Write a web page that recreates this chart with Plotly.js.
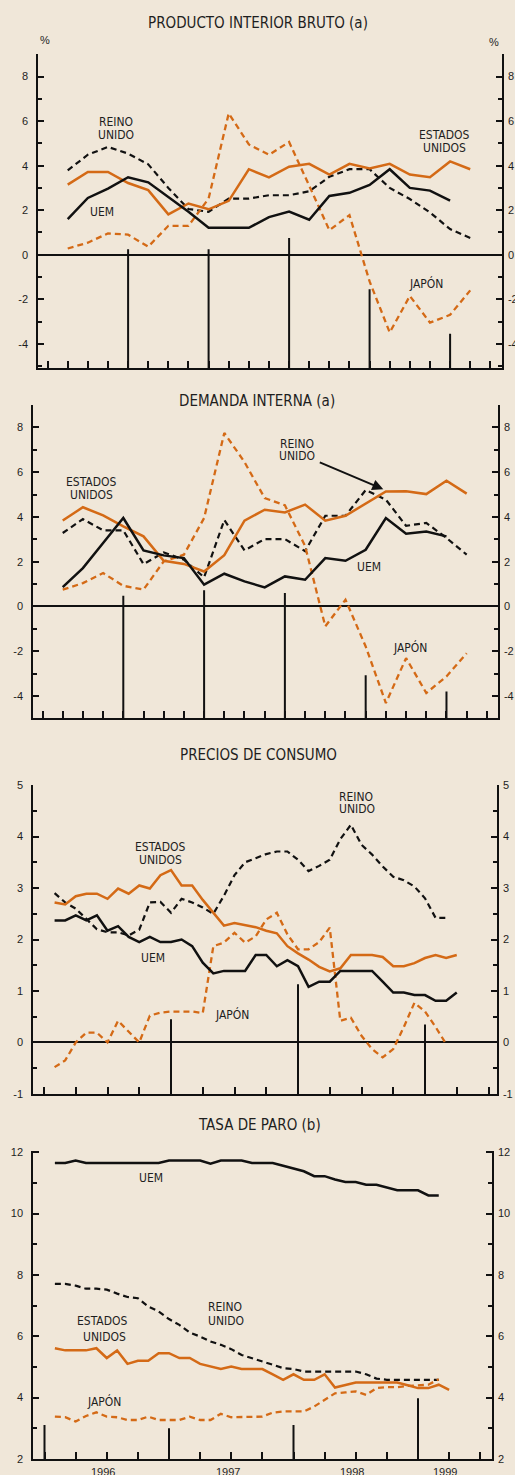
<!DOCTYPE html>
<html><head><meta charset="utf-8">
<script src="https://cdn.plot.ly/plotly-3.0.1.min.js"></script>
<style>html,body{margin:0;padding:0;background:rgb(240,231,217);}#chart{width:515px;height:1475px;}</style>
</head><body><div id="chart"></div>
<script>
// ---------- periods ----------
const quarters = ['1994-T1','1994-T2','1994-T3','1994-T4','1995-T1','1995-T2','1995-T3','1995-T4',
  '1996-T1','1996-T2','1996-T3','1996-T4','1997-T1','1997-T2','1997-T3','1997-T4',
  '1998-T1','1998-T2','1998-T3','1998-T4','1999-T1'];
const months = [];
for (let y = 1996; y <= 1999; y++) for (let m = 1; m <= 12; m++) { if (y === 1999 && m > 3) break; months.push(y + '-' + String(m).padStart(2, '0')); }

// ---------- PRODUCTO INTERIOR BRUTO (a) ----------
const gdpUEM   = [1.6, 2.55, 2.97, 3.48, 3.25, 2.6, 1.93, 1.21, 1.21, 1.21, 1.69, 1.94, 1.57, 2.64, 2.78, 3.13, 3.84, 3.0, 2.88, 2.43];
const gdpEEUU  = [3.15, 3.72, 3.72, 3.22, 2.9, 1.81, 2.3, 2.04, 2.42, 3.84, 3.47, 3.95, 4.08, 3.6, 4.08, 3.87, 4.08, 3.6, 3.48, 4.19, 3.84];
const gdpRU    = [3.79, 4.49, 4.84, 4.54, 4.06, 3.0, 2.05, 1.93, 2.52, 2.52, 2.67, 2.67, 2.85, 3.5, 3.84, 3.84, 3.0, 2.5, 1.9, 1.15, 0.75];
const gdpJapon = [0.28, 0.54, 0.96, 0.9, 0.36, 1.3, 1.3, 2.52, 6.35, 4.95, 4.49, 5.06, 3.1, 1.1, 1.78, -1.2, -3.49, -1.85, -3.05, -2.7, -1.6];

// ---------- DEMANDA INTERNA (a) ----------
const diUEM   = [0.86, 1.71, 2.83, 3.95, 2.5, 2.28, 2.16, 0.97, 1.46, 1.12, 0.85, 1.34, 1.19, 2.16, 2.04, 2.53, 3.95, 3.25, 3.35, 3.13];
const diEEUU  = [3.84, 4.43, 4.07, 3.58, 3.13, 2.04, 1.9, 1.56, 2.29, 3.83, 4.32, 4.2, 4.55, 3.83, 4.05, 4.6, 5.14, 5.15, 5.02, 5.62, 5.04];
const diRU    = [3.28, 3.9, 3.4, 3.4, 1.89, 2.41, 2.09, 1.3, 3.86, 2.5, 3.01, 3.01, 2.47, 4.05, 4.05, 5.2, 4.77, 3.6, 3.73, 3.06, 2.31];
const diJapon = [0.75, 1.04, 1.49, 0.92, 0.75, 2.01, 2.31, 3.95, 7.75, 6.45, 4.84, 4.52, 2.7, -0.89, 0.3, -1.79, -4.32, -2.31, -3.87, -3.13, -2.09];

// ---------- PRECIOS DE CONSUMO ----------
const ipcUEM   = [2.37, 2.37, 2.47, 2.37, 2.47, 2.17, 2.26, 2.05, 1.95, 2.05, 1.95, 1.95, 2.0, 1.87, 1.55, 1.34, 1.39, 1.39, 1.39, 1.70, 1.70, 1.48, 1.60, 1.48, 1.08, 1.18, 1.18, 1.39, 1.39, 1.39, 1.39, 1.18, 0.97, 0.97, 0.92, 0.92, 0.81, 0.81, 0.97];
const ipcEEUU  = [2.72, 2.68, 2.84, 2.89, 2.89, 2.79, 2.99, 2.89, 3.05, 2.99, 3.25, 3.35, 3.05, 3.05, 2.77, 2.52, 2.27, 2.32, 2.28, 2.24, 2.17, 2.12, 1.87, 1.73, 1.61, 1.47, 1.38, 1.44, 1.70, 1.70, 1.70, 1.66, 1.48, 1.48, 1.54, 1.64, 1.70, 1.64, 1.70];
const ipcRU    = [2.90, 2.72, 2.60, 2.40, 2.20, 2.14, 2.14, 2.08, 2.19, 2.72, 2.73, 2.52, 2.79, 2.72, 2.62, 2.50, 2.85, 3.25, 3.50, 3.58, 3.66, 3.71, 3.71, 3.55, 3.33, 3.43, 3.55, 3.95, 4.23, 3.84, 3.65, 3.42, 3.22, 3.15, 3.03, 2.80, 2.42, 2.42];
const ipcJapon = [-0.48, -0.35, 0.0, 0.19, 0.19, 0.0, 0.42, 0.22, 0.0, 0.52, 0.58, 0.60, 0.60, 0.60, 0.57, 1.87, 1.94, 2.13, 1.94, 2.06, 2.39, 2.52, 2.10, 1.81, 1.81, 1.95, 2.23, 0.42, 0.48, 0.13, -0.13, -0.29, -0.13, 0.30, 0.77, 0.60, 0.30, -0.03];

// ---------- TASA DE PARO (b) ----------
const paroUEM   = [11.65, 11.65, 11.73, 11.65, 11.65, 11.65, 11.65, 11.65, 11.65, 11.65, 11.65, 11.73, 11.73, 11.73, 11.73, 11.63, 11.73, 11.73, 11.73, 11.65, 11.65, 11.65, 11.56, 11.47, 11.38, 11.22, 11.22, 11.11, 11.03, 11.03, 10.94, 10.94, 10.86, 10.76, 10.76, 10.76, 10.59, 10.59];
const paroEEUU  = [5.61, 5.54, 5.54, 5.54, 5.61, 5.29, 5.54, 5.10, 5.20, 5.20, 5.45, 5.45, 5.29, 5.29, 5.10, 5.01, 4.93, 5.01, 4.93, 4.93, 4.93, 4.76, 4.58, 4.76, 4.58, 4.58, 4.76, 4.33, 4.42, 4.49, 4.49, 4.49, 4.49, 4.49, 4.40, 4.31, 4.31, 4.42, 4.25];
const paroRU    = [7.71, 7.71, 7.65, 7.55, 7.55, 7.52, 7.39, 7.28, 7.24, 6.97, 6.81, 6.56, 6.37, 6.12, 5.99, 5.83, 5.72, 5.58, 5.39, 5.29, 5.18, 5.07, 4.96, 4.93, 4.85, 4.85, 4.85, 4.85, 4.85, 4.85, 4.76, 4.62, 4.58, 4.58, 4.58, 4.58, 4.58, 4.58];
const paroJapon = [3.38, 3.36, 3.22, 3.40, 3.52, 3.38, 3.36, 3.27, 3.27, 3.38, 3.27, 3.27, 3.27, 3.38, 3.27, 3.27, 3.47, 3.36, 3.36, 3.36, 3.38, 3.51, 3.55, 3.55, 3.55, 3.71, 3.93, 4.14, 4.17, 4.20, 4.09, 4.31, 4.34, 4.34, 4.38, 4.40, 4.42, 4.60];

// ---------- axis tick labels ----------
const yTicks1 = ['-4', '-2', '0', '2', '4', '6', '8'];
const yTicks2 = ['-4', '-2', '0', '2', '4', '6', '8'];
const yTicks3 = ['-1', '0', '1', '2', '3', '4', '5'];
const yTicks4 = ['2', '4', '6', '8', '10', '12'];

// year separator lines (year, height reached)
const sepYears1 = [1995, 1996, 1997, 1998, 1999], sepTops1 = [0.25, 0.25, 0.75, -1.55, -3.55];
const sepYears2 = [1995, 1996, 1997, 1998, 1999], sepTops2 = [0.48, 0.72, 0.6, -3.08, -3.8];
const sepYears3 = [1997, 1998, 1999],             sepTops3 = [0.45, 1.13, 0.35];
const sepYears4 = [1996, 1997, 1998, 1999],       sepTops4 = [3.11, 3.0, 3.11, 3.98];
const yearLabels = ['1996', '1997', '1998', '1999'];
const yearLabelPos = [1996.47, 1997.47, 1998.47, 1999.22];

// ---------- helpers ----------
const W = 515, H = 1475;
const ORANGE = 'rgb(212,106,22)', BLACK = '#111111', TXT = '#1e1e1e';
const qx = p => { const [y, q] = p.split('-T'); return +y + (+q) / 4; };
const mx = p => { const [y, m] = p.split('-'); return +y + (+m) / 12; };

function hasFont(name) {
  const c = document.createElement('canvas').getContext('2d');
  c.font = '20px monospace'; const a = c.measureText('REINO UNIDO ESTADOS').width;
  c.font = '20px "' + name + '", monospace'; const b = c.measureText('REINO UNIDO ESTADOS').width;
  return Math.abs(a - b) > 0.5;
}
let LF;
if (hasFont('Liberation Sans Narrow')) LF = { family: '"Liberation Sans Narrow", "Arial Narrow", sans-serif', lab: 14, tit: 17 };
else if (hasFont('DejaVu Sans Condensed')) LF = { family: '"DejaVu Sans Condensed", sans-serif', lab: 12, tit: 15 };
else LF = { family: '"Liberation Sans", Arial, sans-serif', lab: 12, tit: 14 };
const TF = '"Liberation Sans", Arial, sans-serif';

const panels = [
  { box: [38.3, 54.3, 501.7, 368.3], xr: [1993.8845, 1999.641], yr: [-5.1, 9], tt: yTicks1, mn: 1, t0: 1994, zero: true,
    per: quarters, px: qx, s: [gdpRU, gdpJapon, gdpEEUU, gdpUEM], sy: sepYears1, st: sepTops1 },
  { box: [33.3, 405, 497.7, 718.3], xr: [1993.886, 1999.634], yr: [-5, 9], tt: yTicks2, mn: 1, t0: 1994, zero: true,
    per: quarters, px: qx, s: [diRU, diJapon, diEEUU, diUEM], sy: sepYears2, st: sepTops2 },
  { box: [33.3, 785, 496.7, 1094], xr: [1995.9157, 1999.5646], yr: [-1.002, 5.002], tt: yTicks3, mn: 0.5, t0: 1996, zero: true,
    per: months, px: mx, s: [ipcRU, ipcJapon, ipcEEUU, ipcUEM], sy: sepYears3, st: sepTops3 },
  { box: [33.3, 1150.7, 491.7, 1459], xr: [1995.910, 1999.592], yr: [1.998, 12.05], tt: yTicks4, mn: 1, t0: 1996, zero: false,
    per: months, px: mx, s: [paroRU, paroJapon, paroEEUU, paroUEM], sy: sepYears4, st: sepTops4 }
];
const styles = [
  { color: BLACK, width: 2.2, dash: '6px,4px' },
  { color: ORANGE, width: 2.3, dash: '6px,4px' },
  { color: ORANGE, width: 2.5 },
  { color: BLACK, width: 2.5 }
];
const names = ['Reino Unido', 'Japón', 'Estados Unidos', 'UEM'];

const data = [], shapes = [], annotations = [];
const layout = {
  width: W, height: H, margin: { l: 0, r: 0, t: 0, b: 0 }, autosize: false,
  paper_bgcolor: 'rgb(240,231,217)', plot_bgcolor: 'rgba(0,0,0,0)', showlegend: false,
  font: { family: TF, size: 11, color: TXT }
};

panels.forEach((p, k) => {
  const i = k + 1, sfx = i === 1 ? '' : String(i), xa = 'x' + sfx, ya = 'y' + sfx, yr = 'y' + (i + 4);
  const [L, T, R, B] = p.box;
  layout['xaxis' + sfx] = {
    domain: [L / W, R / W], range: p.xr, anchor: ya, showline: true, linewidth: 2, linecolor: BLACK,
    ticks: 'inside', ticklen: 7, tickwidth: 2, tickcolor: BLACK, tickmode: 'linear', tick0: p.t0, dtick: 0.25,
    showticklabels: false, showgrid: false, zeroline: false, fixedrange: true
  };
  const yBase = {
    range: p.yr, showline: true, linewidth: 2, linecolor: BLACK,
    ticks: 'inside', ticklen: 6, tickwidth: 2, tickcolor: BLACK,
    tickmode: 'array', tickvals: p.tt.map(Number), ticktext: p.tt,
    minor: { tickmode: 'linear', dtick: p.mn, tick0: 0, ticks: 'inside', ticklen: 4, tickwidth: 2, tickcolor: BLACK, showgrid: false },
    showgrid: false, fixedrange: true, tickfont: { family: TF, size: 11, color: TXT }
  };
  layout['yaxis' + sfx] = Object.assign({}, yBase, {
    domain: [1 - B / H, 1 - T / H], anchor: xa, side: 'left', ticklabelstandoff: 6,
    zeroline: p.zero, zerolinewidth: 2, zerolinecolor: BLACK
  });
  layout['yaxis' + (i + 4)] = Object.assign({}, yBase, {
    overlaying: ya, anchor: xa, side: 'right', ticklabelstandoff: 2, zeroline: false
  });
  p.s.forEach((vals, j) => {
    data.push({
      type: 'scatter', mode: 'lines', name: names[j], xaxis: xa, yaxis: ya,
      x: p.per.slice(0, vals.length).map(p.px), y: vals,
      line: Object.assign({ shape: 'linear' }, styles[j]), hoverinfo: 'skip'
    });
  });
  data.push({ type: 'scatter', mode: 'lines', x: [], y: [], xaxis: xa, yaxis: yr, hoverinfo: 'skip', showlegend: false });
  p.sy.forEach((yy, j) => {
    shapes.push({ type: 'line', xref: xa, yref: ya, x0: yy, x1: yy, y0: p.yr[0], y1: p.st[j], line: { color: BLACK, width: 2 } });
  });
});

function lab(text, x, y, size, fam) {
  annotations.push({ xref: 'paper', yref: 'paper', x: x / W, y: 1 - y / H, text: text, showarrow: false,
    xanchor: 'center', yanchor: 'middle', font: { family: fam || LF.family, size: size || LF.lab, color: TXT } });
}
// panel 1
lab('PRODUCTO INTERIOR BRUTO (a)', 258, 22.7, LF.tit);
lab('%', 45, 40, 11, TF); lab('%', 494.3, 41.7, 11, TF);
lab('REINO', 115.8, 122.3); lab('UNIDO', 116, 135);
lab('UEM', 102.2, 212.3);
lab('ESTADOS', 444.7, 135); lab('UNIDOS', 444.7, 147.7);
lab('JAPÓN', 425.5, 284);
// panel 2
lab('DEMANDA INTERNA (a)', 257.3, 400.7, LF.tit);
lab('REINO', 297.2, 444.3); lab('UNIDO', 297.2, 455.7);
lab('ESTADOS', 91.3, 482.3); lab('UNIDOS', 91.3, 495);
lab('UEM', 369.2, 567.3);
lab('JAPÓN', 410, 647.3);
annotations.push({ xref: 'paper', yref: 'paper', x: 383.3 / W, y: 1 - 489.3 / H, ax: -65, ay: -27.6, axref: 'pixel', ayref: 'pixel',
  text: '', showarrow: true, arrowhead: 2, arrowsize: 1.1, arrowwidth: 2, arrowcolor: BLACK });
// panel 3
lab('PRECIOS DE CONSUMO', 258.7, 755, LF.tit);
lab('REINO', 356.2, 796.7); lab('UNIDO', 356.5, 809);
lab('ESTADOS', 160.8, 847.3); lab('UNIDOS', 160.5, 860);
lab('UEM', 153.3, 958.3);
lab('JAPÓN', 231.7, 1014);
// panel 4
lab('TASA DE PARO (b)', 259.3, 1125, LF.tit);
lab('UEM', 150.8, 1177.7);
lab('REINO', 225.3, 1307.3); lab('UNIDO', 225.8, 1321);
lab('ESTADOS', 102, 1321); lab('UNIDOS', 104.8, 1337.3);
lab('JAPÓN', 103.8, 1401);
yearLabels.forEach((t, j) => {
  annotations.push({ xref: 'x4', yref: 'paper', x: yearLabelPos[j], y: 1 - 1463.5 / H, text: t, showarrow: false,
    xanchor: 'center', yanchor: 'top', font: { family: TF, size: 11, color: TXT } });
});

layout.shapes = shapes;
layout.annotations = annotations;
Plotly.newPlot('chart', data, layout, { staticPlot: true, displayModeBar: false });
</script>
</body></html>
